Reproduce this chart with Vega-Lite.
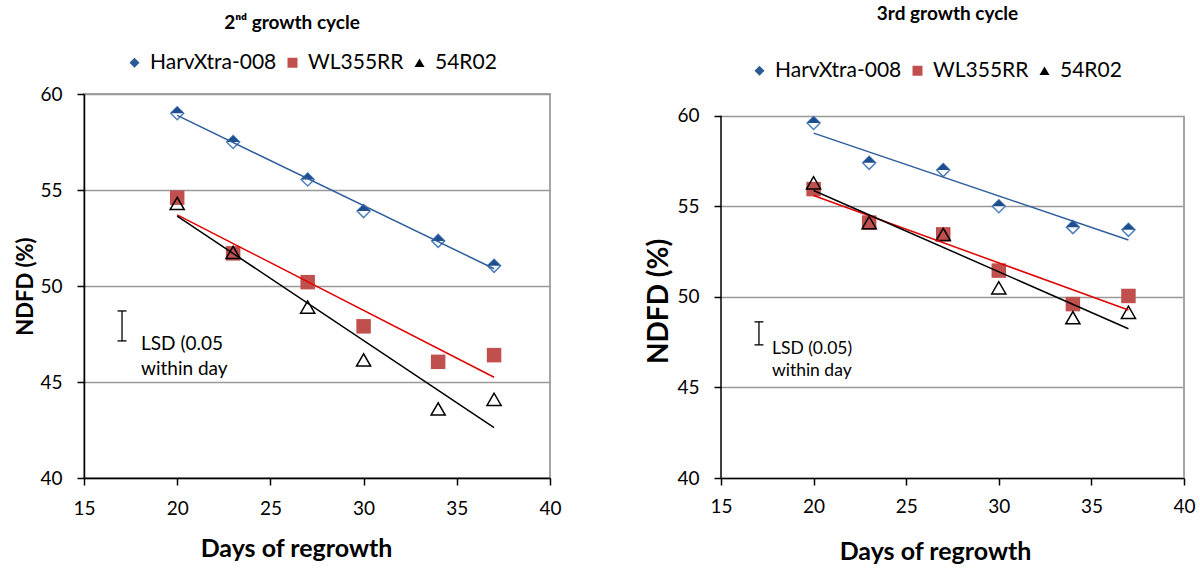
{
  "$schema": "https://vega.github.io/schema/vega-lite/v6.json",
  "background": "white",
  "padding": {"left": 13, "top": 5, "right": 0, "bottom": 0},
  "spacing": 82,
  "config": {
    "font": "Lato",
    "view": {"stroke": "#A6A6A6", "strokeWidth": 2},
    "axis": {
      "labelFont": "Lato", "labelFontSize": 19, "labelColor": "#000000", "labelFlush": false,
      "titleFont": "Lato", "titleFontWeight": "bold", "titleColor": "#000000",
      "domainColor": "#000000", "domainWidth": 1.5,
      "tickColor": "#000000", "tickWidth": 1.5, "tickSize": 7,
      "gridColor": "#999999", "gridWidth": 1.5
    },
    "legend": {
      "labelFont": "Lato", "labelFontSize": 21, "labelColor": "#000000",
      "symbolStrokeWidth": 0, "labelOffset": 5, "columnPadding": 5
    },
    "title": {"font": "Lato", "fontWeight": "bold", "fontSize": 19, "color": "#000000"}
  },
  "datasets": {
    "c2": [
      {"variety": "HarvXtra-008", "day": 20, "ndfd": 59.0},
      {"variety": "HarvXtra-008", "day": 23, "ndfd": 57.5},
      {"variety": "HarvXtra-008", "day": 27, "ndfd": 55.55},
      {"variety": "HarvXtra-008", "day": 30, "ndfd": 53.9},
      {"variety": "HarvXtra-008", "day": 34, "ndfd": 52.35},
      {"variety": "HarvXtra-008", "day": 37, "ndfd": 51.05},
      {"variety": "WL355RR", "day": 20, "ndfd": 54.6},
      {"variety": "WL355RR", "day": 23, "ndfd": 51.7},
      {"variety": "WL355RR", "day": 27, "ndfd": 50.2},
      {"variety": "WL355RR", "day": 30, "ndfd": 47.9},
      {"variety": "WL355RR", "day": 34, "ndfd": 46.05},
      {"variety": "WL355RR", "day": 37, "ndfd": 46.4},
      {"variety": "54R02", "day": 20, "ndfd": 54.3},
      {"variety": "54R02", "day": 23, "ndfd": 51.75},
      {"variety": "54R02", "day": 27, "ndfd": 48.9},
      {"variety": "54R02", "day": 30, "ndfd": 46.15},
      {"variety": "54R02", "day": 34, "ndfd": 43.6},
      {"variety": "54R02", "day": 37, "ndfd": 44.1}
    ],
    "c3": [
      {"variety": "HarvXtra-008", "day": 20, "ndfd": 59.6},
      {"variety": "HarvXtra-008", "day": 23, "ndfd": 57.4},
      {"variety": "HarvXtra-008", "day": 27, "ndfd": 57.0},
      {"variety": "HarvXtra-008", "day": 30, "ndfd": 55.0},
      {"variety": "HarvXtra-008", "day": 34, "ndfd": 53.85},
      {"variety": "HarvXtra-008", "day": 37, "ndfd": 53.7},
      {"variety": "WL355RR", "day": 20, "ndfd": 55.95},
      {"variety": "WL355RR", "day": 23, "ndfd": 54.1},
      {"variety": "WL355RR", "day": 27, "ndfd": 53.45},
      {"variety": "WL355RR", "day": 30, "ndfd": 51.45},
      {"variety": "WL355RR", "day": 34, "ndfd": 49.6},
      {"variety": "WL355RR", "day": 37, "ndfd": 50.05},
      {"variety": "54R02", "day": 20, "ndfd": 56.3},
      {"variety": "54R02", "day": 23, "ndfd": 54.1},
      {"variety": "54R02", "day": 27, "ndfd": 53.45},
      {"variety": "54R02", "day": 30, "ndfd": 50.5},
      {"variety": "54R02", "day": 34, "ndfd": 48.85},
      {"variety": "54R02", "day": 37, "ndfd": 49.15}
    ],
    "lsd2": [
      {"day": 17.04, "ndfd": 47.14},
      {"day": 17.04, "ndfd": 48.7}
    ],
    "lsd3": [
      {"day": 17.05, "ndfd": 47.35},
      {"day": 17.05, "ndfd": 48.62}
    ],
    "note2": [
      {"day": 18.06, "ndfd": 47.0, "label": "LSD (0.05\nwithin day"}
    ],
    "note3": [
      {"day": 17.75, "ndfd": 47.13, "label": "LSD (0.05)\nwithin day"}
    ],
    "frame3": [
      {"side": "axis", "day": 15, "ndfd": 40, "top": 60},
      {"side": "border", "day": 40, "ndfd": 40, "top": 60}
    ]
  },
  "resolve": {
    "scale": {"x": "independent", "y": "independent", "color": "independent", "shape": "independent", "stroke": "independent"},
    "legend": {"color": "independent", "shape": "independent"},
    "axis": {"x": "independent", "y": "independent"}
  },
  "hconcat": [
    {
      "width": 466,
      "height": 384,
      "title": {"text": "2ⁿᵈ growth cycle", "offset": 19, "dx": -25},
      "data": {"name": "c2"},
      "encoding": {
        "x": {"field": "day", "type": "quantitative",
          "scale": {"domain": [15, 40], "nice": false, "zero": false},
          "axis": {"values": [15, 20, 25, 30, 35, 40], "title": "Days of regrowth", "titleFontSize": 25, "titlePadding": 18, "titleX": 212, "labelPadding": 14, "grid": false}},
        "y": {"field": "ndfd", "type": "quantitative",
          "scale": {"domain": [40, 60], "nice": false, "zero": false},
          "axis": {"values": [40, 45, 50, 55, 60], "title": "NDFD (%)", "titleFontSize": 22, "titlePadding": 2, "labelPadding": 15, "grid": true}}
      },
      "layer": [
        {
          "transform": [{"filter": "datum.day < 0"}],
          "mark": {"type": "point", "filled": true, "size": 220, "opacity": 1},
          "encoding": {
            "color": {"field": "variety", "type": "nominal",
              "scale": {"domain": ["HarvXtra-008", "WL355RR", "54R02"], "range": ["#2B5A95", "#C0504D", "#000000"]},
              "legend": {"orient": "none", "legendX": 40, "legendY": -42, "direction": "horizontal", "title": null}},
            "shape": {"field": "variety", "type": "nominal",
              "scale": {"domain": ["HarvXtra-008", "WL355RR", "54R02"], "range": ["diamond", "square", "triangle-up"]}}
          }
        },
        {
          "transform": [{"filter": "datum.variety === 'HarvXtra-008'"}],
          "mark": {"type": "point", "shape": "M0,-1L1,0L0,1L-1,0Z", "size": 169, "filled": true, "fill": "white", "stroke": "#4F81BD", "strokeWidth": 1.5, "opacity": 1}
        },
        {
          "transform": [{"filter": "datum.variety === 'HarvXtra-008'"}],
          "mark": {"type": "point", "shape": "M-1,0L0,-1L1,0Z", "size": 169, "filled": true, "fill": "#1F4E8C", "strokeWidth": 0, "opacity": 1}
        },
        {
          "transform": [{"filter": "datum.variety === 'WL355RR'"}],
          "mark": {"type": "square", "size": 210, "color": "#C0504D", "opacity": 1}
        },
        {
          "transform": [{"filter": "datum.variety === '54R02'"}],
          "mark": {"type": "point", "shape": "triangle-up", "size": 200, "filled": false, "stroke": "#000000", "strokeWidth": 1.5, "opacity": 1}
        },
        {
          "transform": [{"regression": "ndfd", "on": "day", "groupby": ["variety"], "extent": [20, 37]}],
          "mark": {"type": "line", "strokeWidth": 1.5},
          "encoding": {
            "stroke": {"field": "variety", "type": "nominal",
              "scale": {"domain": ["HarvXtra-008", "WL355RR", "54R02"], "range": ["#2F5E9D", "#E00000", "#000000"]},
              "legend": null}
          }
        },
        {
          "data": {"name": "lsd2"},
          "mark": {"type": "line", "color": "#000000", "strokeWidth": 1.3},
          "encoding": {}
        },
        {
          "data": {"name": "lsd2"},
          "mark": {"type": "tick", "orient": "horizontal", "size": 9, "thickness": 1.3, "color": "#000000", "opacity": 1}
        },
        {
          "data": {"name": "note2"},
          "mark": {"type": "text", "align": "left", "baseline": "middle", "fontSize": 19, "lineBreak": "\n", "lineHeight": 25, "color": "#000000"},
          "encoding": {"text": {"field": "label"}}
        }
      ]
    },
    {
      "width": 463,
      "height": 384,
      "view": {"stroke": null},
      "title": {"text": "3rd growth cycle", "offset": 36, "dx": -5},
      "data": {"name": "c3"},
      "encoding": {
        "x": {"field": "day", "type": "quantitative",
          "scale": {"domain": [15, 40], "nice": false, "zero": false},
          "axis": {"values": [15, 20, 25, 30, 35, 40], "title": "Days of regrowth", "titleFontSize": 25, "titlePadding": 23, "titleX": 214, "labelPadding": 12, "grid": false}},
        "y": {"field": "ndfd", "type": "quantitative",
          "scale": {"domain": [40, 61.2], "nice": false, "zero": false},
          "axis": {"values": [40, 45, 50, 55, 60], "title": "NDFD (%)", "titleFontSize": 28, "titlePadding": 3, "titleY": 207, "labelPadding": 15, "grid": true, "domain": false}}
      },
      "layer": [
        {
          "data": {"name": "frame3"},
          "transform": [{"filter": "datum.side === 'border'"}],
          "mark": {"type": "rule", "color": "#A6A6A6", "strokeWidth": 2},
          "encoding": {"y2": {"field": "top"}}
        },
        {
          "data": {"name": "frame3"},
          "transform": [{"filter": "datum.side === 'axis'"}],
          "mark": {"type": "rule", "color": "#000000", "strokeWidth": 1.5},
          "encoding": {"y2": {"field": "top"}}
        },
        {
          "transform": [{"filter": "datum.day < 0"}],
          "mark": {"type": "point", "filled": true, "size": 220, "opacity": 1},
          "encoding": {
            "color": {"field": "variety", "type": "nominal",
              "scale": {"domain": ["HarvXtra-008", "WL355RR", "54R02"], "range": ["#2B5A95", "#C0504D", "#000000"]},
              "legend": {"orient": "none", "legendX": 28, "legendY": -34, "direction": "horizontal", "title": null}},
            "shape": {"field": "variety", "type": "nominal",
              "scale": {"domain": ["HarvXtra-008", "WL355RR", "54R02"], "range": ["diamond", "square", "triangle-up"]}}
          }
        },
        {
          "transform": [{"filter": "datum.variety === 'HarvXtra-008'"}],
          "mark": {"type": "point", "shape": "M0,-1L1,0L0,1L-1,0Z", "size": 169, "filled": true, "fill": "white", "stroke": "#4F81BD", "strokeWidth": 1.5, "opacity": 1}
        },
        {
          "transform": [{"filter": "datum.variety === 'HarvXtra-008'"}],
          "mark": {"type": "point", "shape": "M-1,0L0,-1L1,0Z", "size": 169, "filled": true, "fill": "#1F4E8C", "strokeWidth": 0, "opacity": 1}
        },
        {
          "transform": [{"filter": "datum.variety === 'WL355RR'"}],
          "mark": {"type": "square", "size": 210, "color": "#C0504D", "opacity": 1}
        },
        {
          "transform": [{"filter": "datum.variety === '54R02'"}],
          "mark": {"type": "point", "shape": "triangle-up", "size": 200, "filled": false, "stroke": "#000000", "strokeWidth": 1.5, "opacity": 1}
        },
        {
          "transform": [{"regression": "ndfd", "on": "day", "groupby": ["variety"], "extent": [20, 37]}],
          "mark": {"type": "line", "strokeWidth": 1.5},
          "encoding": {
            "stroke": {"field": "variety", "type": "nominal",
              "scale": {"domain": ["HarvXtra-008", "WL355RR", "54R02"], "range": ["#2F5E9D", "#E00000", "#000000"]},
              "legend": null}
          }
        },
        {
          "data": {"name": "lsd3"},
          "mark": {"type": "line", "color": "#000000", "strokeWidth": 1.3},
          "encoding": {}
        },
        {
          "data": {"name": "lsd3"},
          "mark": {"type": "tick", "orient": "horizontal", "size": 9, "thickness": 1.3, "color": "#000000", "opacity": 1}
        },
        {
          "data": {"name": "note3"},
          "mark": {"type": "text", "align": "left", "baseline": "middle", "fontSize": 17.5, "lineBreak": "\n", "lineHeight": 22, "color": "#000000"},
          "encoding": {"text": {"field": "label"}}
        }
      ]
    }
  ]
}
